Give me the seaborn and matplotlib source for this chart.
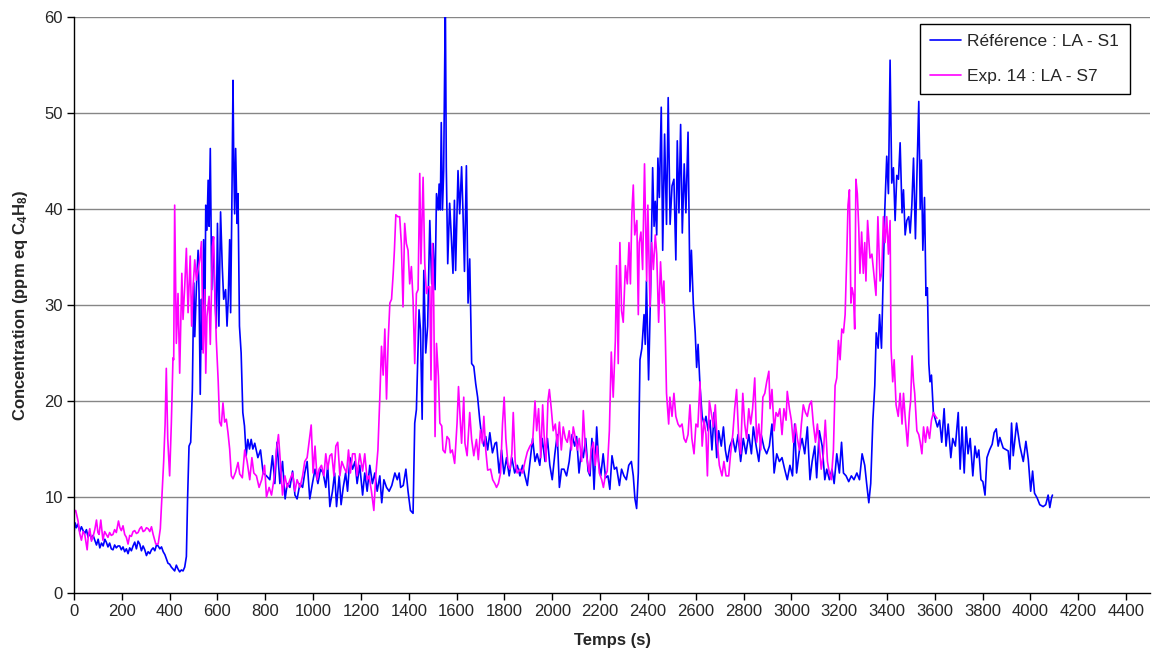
import numpy as np
import pandas as pd
import matplotlib
matplotlib.use("Agg")
import matplotlib.pyplot as plt
import seaborn as sns

# Référence : LA - S1 (time s, concentration)
ref_t = [0, 5, 10, 17, 24, 31, 38, 45, 52, 59, 66, 73, 80, 87, 94, 101, 108, 115, 122, 129,
         135, 142, 149, 156, 163, 170, 177, 184, 191, 198, 205, 212, 219, 226, 233, 240, 247, 254, 261, 268,
         275, 282, 289, 296, 303, 310, 317, 324, 331, 338, 345, 352, 359, 366, 373, 380, 387, 393, 400, 407,
         414, 421, 428, 435, 442, 449, 456, 463,
         470, 475, 481, 488, 495, 501, 505, 512, 519, 523, 528, 533, 537, 542, 547, 551, 556, 561, 565, 570,
         576, 581, 588, 595, 600, 606, 613, 620, 626, 634, 640, 645, 651, 655, 660, 665, 668, 672, 676, 682,
         686, 692, 699, 706, 713, 720, 727, 734, 741, 748,
         756, 769, 780, 791, 805, 819, 830, 840, 849, 861, 872, 883, 892, 903, 914, 924, 933, 945, 956, 965,
         975, 986, 997, 1008, 1020, 1031, 1042, 1053, 1061, 1070, 1081, 1090, 1098, 1109, 1117, 1126, 1136, 1144, 1154, 1165,
         1175, 1184, 1195, 1207, 1216, 1226, 1237, 1248, 1258, 1268, 1279, 1287, 1296, 1307, 1318, 1329, 1342, 1352, 1360,
         1366, 1377, 1388, 1397, 1407, 1418,
         1425, 1432, 1443, 1449, 1456, 1463, 1471, 1479, 1488, 1496, 1502, 1510, 1516, 1523, 1527, 1532, 1536, 1541, 1546, 1553,
         1557, 1563, 1571, 1578, 1585, 1591, 1596, 1606, 1613, 1621, 1627, 1633, 1641, 1648, 1655, 1663, 1672, 1680, 1688, 1697,
         1705, 1714, 1722, 1730, 1739, 1750, 1761,
         1767, 1778, 1788, 1798, 1809, 1820, 1831, 1843, 1854, 1865, 1876, 1886, 1896, 1907, 1918, 1928, 1937, 1948, 1958, 1970,
         1980, 1990, 2000, 2011, 2021, 2030,
         2039, 2049, 2060, 2071, 2083, 2094, 2102, 2112, 2122, 2130, 2140, 2150, 2158, 2166, 2175, 2186, 2194, 2203, 2213, 2223,
         2233, 2241, 2250, 2260, 2269, 2281, 2290, 2300, 2310, 2320, 2331, 2339, 2346, 2353, 2360, 2367, 2375, 2384, 2389, 2394,
         2403, 2412, 2420, 2426, 2431, 2437, 2442, 2448, 2456, 2462, 2470, 2478, 2485, 2493, 2501, 2509, 2517, 2523, 2530, 2537,
         2544, 2552, 2559, 2568, 2576, 2582, 2590, 2598, 2604, 2610, 2618, 2627, 2635, 2643, 2652, 2660, 2668, 2677, 2688, 2696,
         2707, 2716, 2724, 2732, 2743, 2755, 2766, 2777, 2788, 2799, 2810, 2822, 2833, 2841, 2853, 2864, 2874, 2886, 2897, 2908,
         2919, 2928, 2939, 2950, 2961, 2972, 2983, 2994, 3005, 3014, 3022, 3034, 3045, 3056, 3067, 3078, 3087, 3098, 3106, 3117,
         3129, 3140, 3148, 3159, 3170, 3179, 3190, 3201, 3210, 3218, 3229, 3240, 3251, 3262, 3274, 3285, 3296, 3307, 3315, 3324,
         3332,
         3341, 3349, 3355, 3363, 3369, 3377, 3383, 3391, 3399, 3406, 3413, 3420, 3427, 3434, 3441, 3448, 3455, 3463, 3469, 3476,
         3483, 3491, 3497, 3504, 3511, 3519, 3526, 3533, 3539, 3544, 3550, 3557, 3563, 3569, 3575, 3580, 3586, 3594, 3603, 3611,
         3620, 3629, 3639, 3647, 3656, 3667, 3675, 3686, 3698, 3706, 3714, 3723, 3731, 3739, 3748, 3759, 3768, 3776, 3784, 3793,
         3801, 3810, 3818, 3829, 3840, 3848, 3857, 3865,
         3872, 3886, 3907, 3914, 3921, 3928, 3942, 3956, 3970, 3981, 3991, 4001, 4009, 4017, 4028, 4039, 4053, 4064, 4074, 4081,
         4088, 4092]
ref_v = [6.3, 7.3, 6.8, 7.2, 6.4, 6.9, 6.5, 6.2, 6.6, 5.8, 6.3, 5.6, 6.0, 5.5, 5.0, 5.6, 4.7, 5.2, 4.9, 5.6,
         5.3, 4.8, 5.2, 4.6, 4.5, 5.0, 4.7, 4.9, 4.9, 4.5, 4.8, 4.3, 4.6, 4.1, 4.7, 4.4, 4.9, 5.3, 4.6, 5.4,
         5.1, 4.4, 4.9, 4.5, 3.9, 4.3, 4.1, 4.5, 4.7, 4.4, 5.0, 4.9, 4.6, 4.8, 4.3, 4.0, 3.5, 3.1, 3.0, 2.7,
         2.5, 2.3, 2.9, 2.5, 2.2, 2.4, 2.3, 2.7,
         3.8, 9.8, 15.3, 15.7, 21.2, 32.3, 26.7, 31.9, 35.7, 31.2, 20.7, 30.6, 25.4, 36.8, 27.4, 40.4, 37.8, 43.0, 38.2, 46.3,
         31.6, 37.1, 31.9, 27.6, 38.5, 27.8, 39.7, 34.0, 30.6, 31.6, 27.8, 30.6, 36.8, 29.2, 40.0, 53.4, 45.0, 39.5, 46.3, 38.5,
         41.6, 27.8, 25.0, 18.8, 17.4, 14.3, 16.0, 15.0, 16.0, 15.0,
         15.6, 14.1, 14.9, 12.5, 12.2, 11.8, 14.3, 11.4, 15.7, 11.4, 13.7, 9.8, 11.4, 11.0, 12.7, 10.2, 9.8, 11.4, 11.0, 12.5,
         13.7, 9.8, 11.4, 12.9, 11.4, 12.9, 12.5, 11.0, 13.3, 9.0, 10.6, 12.5, 9.0, 12.2, 9.2, 11.0, 12.5, 10.6, 14.1, 12.9,
         13.7, 11.4, 13.3, 10.2, 12.5, 10.6, 13.3, 11.4, 12.5, 10.6, 12.2, 9.4, 11.8, 11.0, 10.6, 11.2, 12.5, 11.8, 12.5,
         11.0, 11.2, 12.9, 10.6, 8.6, 8.3,
         17.7, 19.1, 29.5, 27.4, 18.1, 33.6, 25.0, 27.8, 38.8, 32.2, 36.4, 31.6, 41.6, 39.9, 42.6, 39.9, 49.0, 39.9, 44.0, 62.0,
         44.4, 34.3, 40.6, 37.1, 33.3, 40.9, 33.6, 44.0, 39.5, 44.4, 39.5, 33.5, 44.5, 30.2, 34.8, 23.9, 23.6, 21.8, 20.4, 18.0,
         16.3, 15.3, 16.3, 14.9, 16.7, 14.6, 15.6,
         15.7, 12.5, 14.9, 12.4, 14.1, 12.2, 14.1, 12.5, 13.3, 12.2, 13.3, 12.2, 11.2, 13.7, 16.1, 13.7, 14.5, 13.3, 16.1, 13.7,
         16.1, 13.3, 11.8, 14.5, 16.5, 11.0,
         12.9, 12.9, 12.2, 13.7, 16.5, 15.3, 16.3, 12.5, 14.9, 14.1, 16.1, 12.7, 12.2, 16.1, 10.8, 17.3, 13.7, 12.2, 14.5, 12.0,
         12.2, 10.8, 14.3, 12.9, 13.1, 11.2, 12.9, 12.2, 11.8, 13.3, 13.7, 12.2, 9.8, 8.8, 12.5, 24.3, 25.5, 29.0, 25.9, 32.5,
         22.2, 32.2, 44.3, 38.2, 40.8, 37.3, 45.3, 41.2, 50.6, 35.7, 47.8, 38.4, 51.6, 38.4, 42.4, 43.1, 34.7, 47.1, 39.6, 48.8,
         37.5, 44.7, 39.6, 48.0, 31.4, 35.7, 30.2, 27.1, 23.5, 25.9, 21.6, 18.4, 17.6, 18.4, 16.9, 18.0, 14.9, 18.8, 14.1, 16.9,
         15.3, 17.3, 14.9, 13.7, 15.3, 16.1, 14.7, 16.5, 13.7, 16.1, 14.5, 16.5, 14.5, 17.3, 15.3, 13.7, 16.5, 15.1, 14.5, 15.3,
         17.6, 12.5, 14.5, 13.7, 14.1, 12.9, 11.8, 13.3, 12.2, 17.6, 12.5, 14.9, 16.1, 14.5, 17.3, 11.8, 13.7, 15.3, 12.0, 16.9,
         15.3, 11.8, 12.9, 11.8, 12.9, 11.4, 14.5, 12.5, 15.7, 12.5, 12.2, 11.6, 12.2, 11.8, 12.5, 11.8, 14.5, 13.3, 11.4, 9.4,
         11.4,
         18.0, 21.6, 27.1, 25.5, 29.0, 25.5, 31.8, 40.0, 45.5, 41.6, 55.5, 42.7, 44.3, 38.8, 43.5, 43.1, 46.9, 39.6, 42.0, 37.3,
         38.8, 39.2, 37.5, 40.4, 45.3, 36.9, 44.3, 51.2, 40.0, 45.1, 35.7, 41.2, 31.0, 31.8, 23.9, 22.0, 22.7, 18.8, 18.0, 17.3,
         18.0, 15.7, 19.2, 15.3, 17.6, 14.1, 16.1, 15.3, 18.8, 12.9, 17.3, 12.5, 17.3, 14.5, 16.1, 12.2, 15.3, 14.1, 14.9, 11.8,
         11.6, 10.2, 14.1, 14.9, 15.5, 16.7, 17.1, 15.3,
         16.2, 15.1, 14.8, 12.9, 17.7, 14.3, 17.7, 15.3, 13.7, 15.8, 13.9, 10.6, 12.7, 10.4, 9.9, 9.2, 9.0, 9.2, 10.2, 8.9,
         9.9, 10.2]

# Exp. 14 : LA - S7
exp_t = [0, 7, 17, 24, 31, 38, 45, 55, 60, 66, 73, 80, 87, 94, 100, 105, 112, 121, 128, 135,
         142, 149, 156, 163, 170, 177, 186, 192, 198, 205, 212, 219, 226, 233, 240, 247, 254, 261, 268, 275,
         282, 289, 296, 303, 310, 317, 324, 331, 342, 352, 361, 367, 375, 381, 386, 392, 400, 407, 414,
         417, 421, 428, 435, 442, 451, 456, 463, 470, 477, 486, 492, 498, 505, 512, 519, 526, 533, 540, 547,
         551, 556, 565, 570, 579, 584, 590, 595, 603, 609, 616, 623, 630, 637, 644, 651, 658, 665, 676, 686,
         693, 704, 714, 724, 735, 744, 752, 763, 774, 785, 797, 805, 816, 826, 836, 847, 855, 864, 872, 882,
         892, 903, 914, 924, 933, 945, 956, 965, 975, 983, 992, 1000, 1008, 1017, 1025, 1035, 1045, 1053, 1061, 1070,
         1078, 1087, 1095, 1103, 1112, 1120, 1129, 1140, 1148, 1156, 1165, 1175, 1184, 1195, 1207, 1216, 1226, 1234, 1244, 1254,
         1262, 1271, 1279, 1286, 1293, 1300, 1307, 1314, 1321, 1328, 1335, 1340, 1346, 1354,
         1362, 1369, 1376, 1383, 1390, 1397, 1404, 1411, 1418, 1425, 1432, 1439, 1446, 1451, 1460, 1467, 1474, 1481, 1488, 1493,
         1499, 1504, 1510, 1516, 1524, 1530, 1538, 1543, 1552, 1560, 1569, 1574, 1582, 1592, 1602, 1608, 1616, 1621, 1630, 1635,
         1644, 1655, 1663, 1672, 1683, 1691, 1700, 1708, 1714, 1722, 1730,
         1742, 1751, 1760, 1767, 1775, 1784, 1792, 1799, 1806, 1815, 1823, 1831, 1837, 1845, 1853, 1865, 1876, 1886, 1896, 1907,
         1918, 1928, 1935, 1943, 1952, 1960, 1966, 1974, 1982, 1988, 1996, 2004, 2013, 2021, 2030,
         2038, 2046, 2055, 2063, 2071, 2080, 2088, 2097, 2105, 2113, 2123, 2130, 2138, 2147, 2155, 2163, 2172, 2180, 2188, 2197,
         2207, 2214, 2222, 2230, 2239, 2247, 2255, 2264, 2269, 2276, 2283, 2290, 2297, 2306, 2314, 2321, 2327, 2333, 2339, 2345,
         2354, 2360, 2364, 2371, 2378, 2386, 2395, 2400, 2409, 2416, 2423, 2431, 2437, 2445, 2453, 2461, 2467, 2473, 2478, 2487,
         2492, 2501, 2509, 2517, 2526, 2534, 2543, 2551, 2559, 2568, 2576, 2584, 2593, 2601, 2609, 2618, 2627, 2635, 2643, 2649,
         2657, 2665, 2674, 2682, 2690, 2699,
         2710, 2718, 2727, 2738, 2746, 2755, 2763, 2771, 2780, 2788, 2797, 2805, 2813, 2822, 2830, 2838, 2847, 2855, 2864, 2872,
         2881, 2889, 2897, 2906, 2911, 2919, 2928, 2936, 2944, 2952, 2961, 2969, 2978, 2983, 2992, 3000, 3008, 3017, 3025, 3034,
         3042, 3050, 3059, 3067, 3076, 3084, 3092, 3101, 3109, 3117, 3125, 3134, 3142, 3151, 3159, 3167, 3176, 3183, 3190, 3197,
         3204, 3211, 3218, 3225, 3232, 3237, 3243, 3249, 3254, 3260, 3265, 3270, 3276, 3282, 3287, 3294, 3301, 3307, 3312, 3319,
         3329, 3337, 3345, 3354, 3362,
         3371, 3378, 3385, 3392, 3399, 3406, 3413, 3417, 3424, 3430, 3438, 3447, 3455, 3463, 3469, 3477, 3486, 3494, 3499, 3505,
         3511, 3516, 3525, 3533, 3539, 3546, 3553, 3561, 3569, 3578, 3586, 3594, 3603, 3609]
exp_v = [8.4, 8.6, 7.5, 6.2, 5.5, 6.4, 6.1, 4.5, 6.0, 6.7, 5.4, 5.9, 6.6, 7.6, 6.3, 6.1, 7.6, 5.5, 6.4, 6.1,
         5.8, 6.3, 6.0, 6.1, 6.6, 6.3, 7.5, 6.8, 6.5, 7.0, 6.1, 5.8, 5.1, 6.0, 5.9, 6.4, 6.5, 6.2, 6.3, 6.7,
         6.9, 6.4, 6.5, 6.8, 6.7, 6.4, 6.9, 6.1, 5.1, 5.1, 6.7, 9.8, 13.7, 17.6, 23.4, 16.1, 12.2, 17.6, 24.5,
         24.3, 40.4, 26.0, 31.2, 22.9, 33.3, 28.5, 31.9, 35.9, 29.2, 35.1, 27.8, 31.9, 34.7, 32.6, 33.7, 34.7, 36.6, 25.0, 31.6,
         22.9, 28.8, 30.9, 25.9, 36.1, 37.1, 30.6, 26.4, 22.1, 17.8, 17.4, 19.8, 17.8, 18.1, 16.7, 15.0, 12.2, 11.9, 12.6, 13.6,
         12.4, 12.0, 14.9, 13.7, 11.8, 14.1, 12.5, 12.2, 11.0, 11.8, 13.3, 10.0, 11.0, 10.2, 11.8, 14.9, 16.5, 13.3, 10.2, 12.2,
         11.0, 11.8, 12.5, 10.6, 11.8, 11.0, 12.2, 13.7, 14.1, 15.7, 17.5, 12.5, 15.3, 11.8, 12.9, 13.3, 12.2, 14.5, 12.9, 14.3,
         14.5, 12.2, 15.3, 15.7, 12.2, 13.7, 13.1, 12.5, 14.9, 12.5, 14.5, 14.5, 12.2, 14.5, 12.7, 14.5, 11.8, 12.2, 10.6, 8.6,
         12.2, 14.9, 20.4, 25.7, 22.7, 27.5, 20.2, 26.3, 30.2, 30.6, 33.3, 35.7, 39.4, 39.2,
         39.2, 36.4, 29.8, 38.5, 36.4, 35.7, 32.2, 34.0, 30.5, 23.9, 31.2, 31.6, 43.7, 34.3, 43.3, 34.3, 31.2, 31.9, 31.9, 22.2,
         36.4, 31.2, 16.3, 26.0, 22.6, 17.7, 17.4, 14.9, 14.6, 16.3, 16.0, 14.6, 14.9, 13.5, 17.7, 21.5, 17.7, 15.6, 20.4, 15.6,
         14.3, 18.8, 16.0, 14.3, 16.0, 13.9, 17.0, 15.6, 18.4, 14.9, 12.8,
         12.9, 11.8, 11.4, 11.0, 11.4, 12.5, 17.6, 20.4, 16.1, 13.3, 12.9, 14.5, 18.8, 13.7, 12.5, 12.9, 12.5, 13.7, 14.7, 15.3,
         15.7, 20.0, 16.9, 19.2, 14.1, 19.6, 16.5, 13.7, 20.0, 21.2, 19.2, 16.9, 17.6, 15.3, 17.8,
         14.9, 17.3, 16.1, 15.7, 16.9, 14.9, 17.3, 16.1, 14.9, 16.1, 13.7, 19.0, 15.3, 13.7, 12.5, 14.9, 15.7, 13.3, 15.3, 12.5,
         11.8, 11.0, 12.2, 12.7, 16.9, 25.1, 20.4, 26.3, 34.1, 23.9, 36.5, 29.4, 28.2, 34.1, 32.2, 36.5, 32.2, 39.6, 42.5, 37.3,
         38.8, 29.0, 36.5, 37.6, 33.7, 44.7, 32.5, 40.4, 29.8, 36.5, 33.7, 37.3, 35.3, 28.2, 34.5, 30.2, 32.5, 26.7, 20.8, 17.6,
         20.4, 18.4, 20.8, 18.4, 17.6, 17.3, 17.6, 16.1, 15.7, 16.5, 19.6, 16.1, 14.5, 17.6, 17.3, 22.0, 15.3, 18.0, 16.5, 12.2,
         20.0, 18.8, 17.3, 19.6, 15.7, 13.3,
         12.2, 13.7, 12.2, 12.2, 14.5, 16.5, 19.2, 21.2, 16.1, 14.5, 20.8, 17.6, 16.1, 19.2, 17.6, 19.2, 22.4, 15.7, 17.6, 14.9,
         20.4, 20.8, 22.0, 23.1, 19.2, 21.2, 16.9, 18.8, 18.4, 19.2, 16.5, 19.2, 18.0, 21.0, 19.2, 18.0, 15.7, 17.6, 16.1, 14.9,
         17.6, 19.6, 18.8, 18.4, 19.6, 20.0, 17.6, 15.7, 17.6, 15.3, 12.9, 14.5, 18.0, 13.7, 12.5, 11.8, 14.9, 21.6, 22.4, 26.3,
         24.3, 27.5, 27.1, 29.0, 35.3, 40.4, 42.0, 30.2, 31.8, 31.0, 27.5, 43.1, 41.6, 38.0, 33.3, 37.6, 33.3, 36.5, 32.5, 38.8,
         34.9, 35.3, 33.3, 31.0, 39.2,
         32.5, 33.3, 39.2, 36.5, 39.2, 35.3, 38.8, 25.5, 22.0, 24.3, 19.6, 18.4, 20.8, 17.6, 20.8, 18.0, 15.3, 18.8, 20.0, 24.7,
         22.0, 20.8, 16.9, 16.5, 15.7, 14.5, 17.3, 15.7, 17.3, 16.1, 18.0, 18.8, 18.4, 18.2]

x_ticks = list(range(0, 4401, 200))
y_ticks = list(range(0, 61, 10))

sns.set_style("white")
plt.rcParams["font.family"] = ["Liberation Sans", "DejaVu Sans"]
plt.rcParams["mathtext.fontset"] = "custom"
plt.rcParams["mathtext.bf"] = "Liberation Sans:bold"
plt.rcParams["mathtext.rm"] = "Liberation Sans"

fig = plt.figure(figsize=(11.52, 6.62), dpi=100)
ax = fig.add_axes([74 / 1152, 69 / 662, (1150 - 74) / 1152, (593 - 17) / 662])

for yv in y_ticks[1:]:
    ax.axhline(yv, color="#868686", lw=1.0, zorder=0)

ref = pd.DataFrame({"t": ref_t, "v": ref_v})
exp = pd.DataFrame({"t": exp_t, "v": exp_v})
sns.lineplot(data=ref, x="t", y="v", color="#0000FF", lw=1.2, sort=False,
             estimator=None, label="Référence : LA - S1", ax=ax)
sns.lineplot(data=exp, x="t", y="v", color="#FF00FF", lw=1.2, sort=False,
             estimator=None, label="Exp. 14 : LA - S7", ax=ax)

ax.set_xlim(0, 4500)
ax.set_ylim(0, 60)
ax.set_xticks(x_ticks)
ax.set_yticks(y_ticks)
ax.tick_params(axis="both", direction="out", length=5, width=1, color="black",
               labelsize=12, pad=3, bottom=True, left=True)
for s in ["top", "right"]:
    ax.spines[s].set_visible(False)
for s in ["left", "bottom"]:
    ax.spines[s].set_color("black")
    ax.spines[s].set_linewidth(1.0)

ax.set_xlabel("Temps (s)", fontsize=12, fontweight="bold", labelpad=10)
ax.set_ylabel(r"Concentration (ppm eq C$\mathbf{_4}$H$\mathbf{_8}$)", fontsize=12,
              fontweight="bold", labelpad=10)

leg = ax.legend(loc="upper right", bbox_to_anchor=(0.981, 0.988), borderaxespad=0,
                fancybox=False, edgecolor="black", framealpha=1, fontsize=12.5,
                handlelength=1.8, handletextpad=0.35, borderpad=0.6, labelspacing=1.1)
leg.get_frame().set_linewidth(1.0)

fig.savefig("out.png", dpi=100)
